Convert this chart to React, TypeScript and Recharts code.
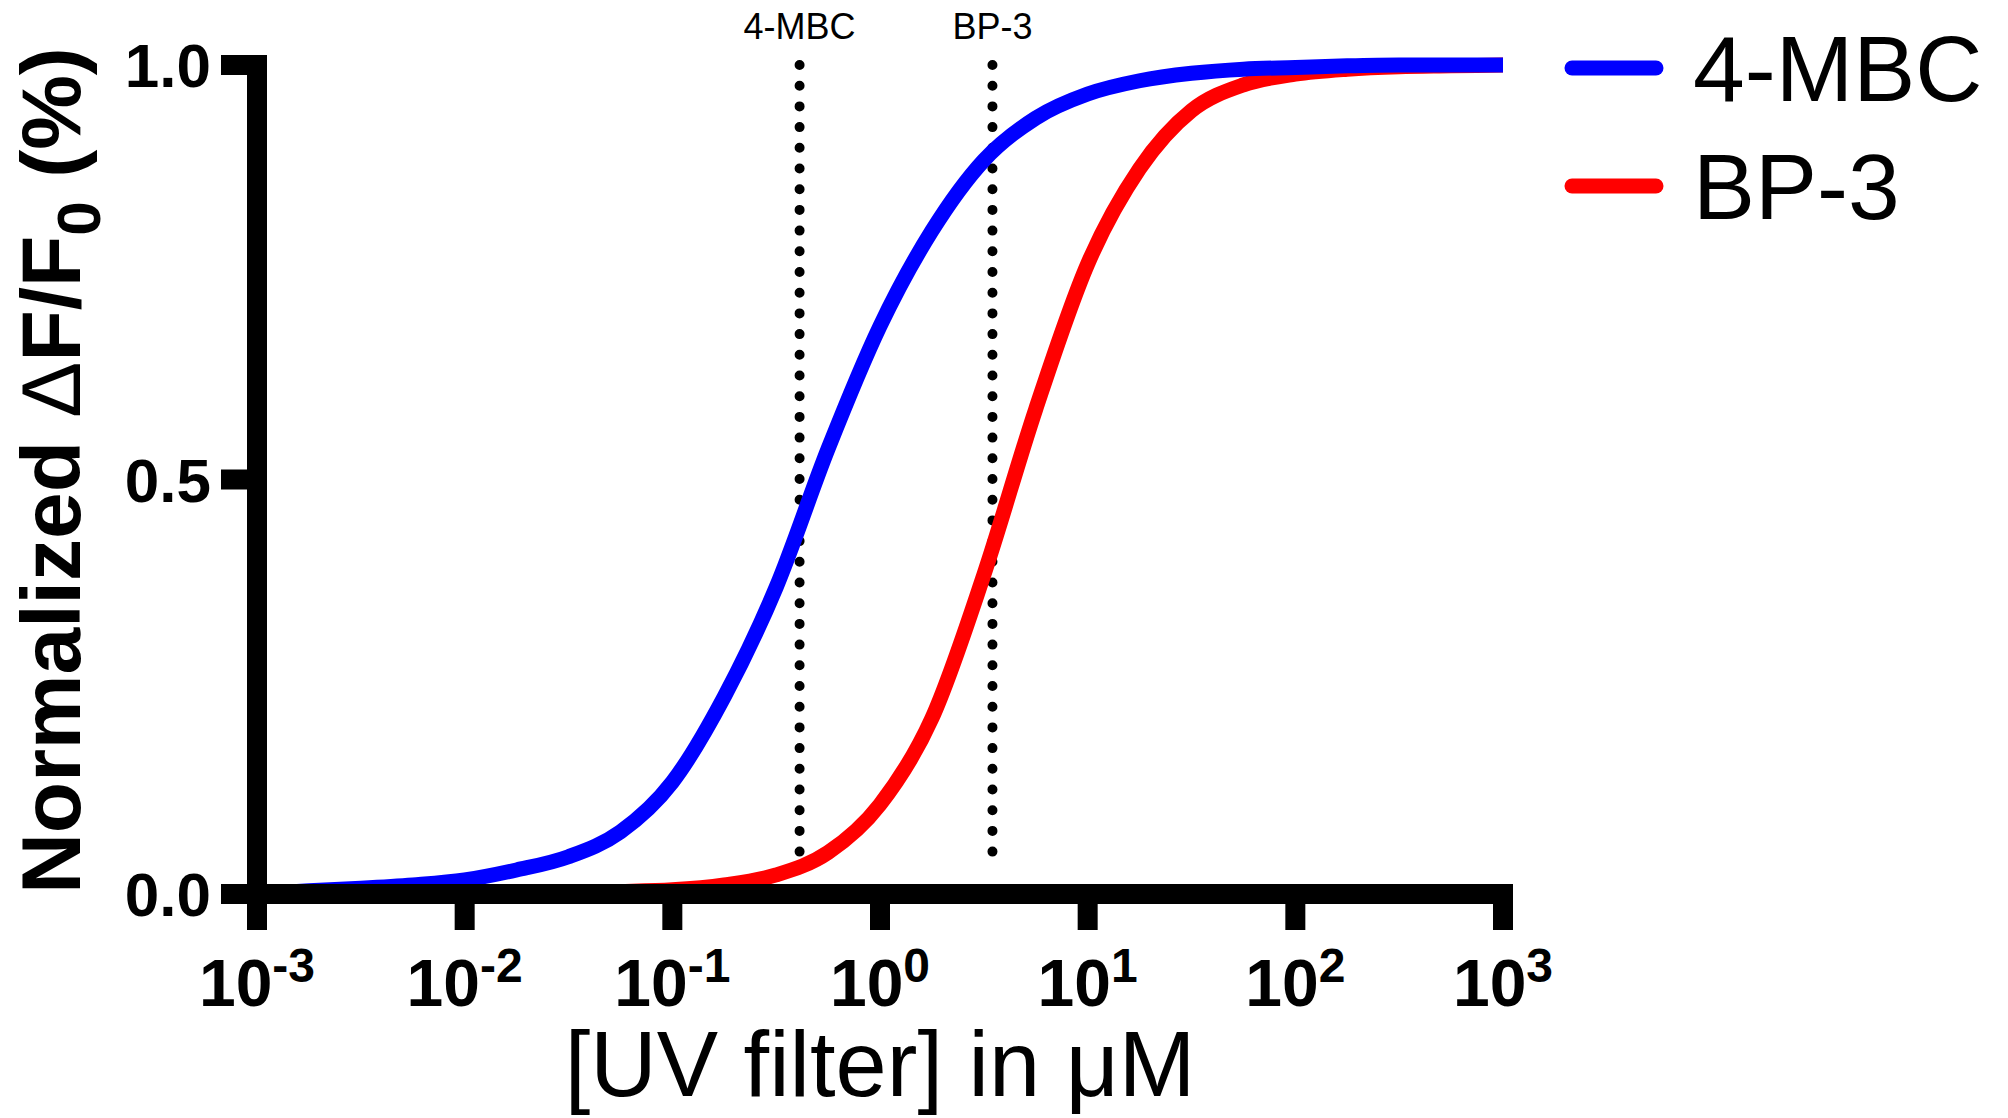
import { LineChart, Line, XAxis, YAxis, Legend, ReferenceLine, Label } from "recharts"

// log10 of the concentration (µM) at which each curve was read
const exponents = [
  -3, -2.75, -2.5, -2.25, -2, -1.75, -1.5, -1.25, -1, -0.75, -0.5, -0.25,
  0, 0.25, 0.5, 0.75, 1, 1.25, 1.5, 1.75, 2, 2.25, 2.5, 2.75, 3
]

// 4-MBC fitted curve
const mbcValues = [
  0.000, 0.004, 0.007, 0.011, 0.017, 0.029, 0.045, 0.075, 0.135, 0.238, 0.370, 0.537,
  0.685, 0.800, 0.885, 0.936, 0.965, 0.981, 0.990, 0.995, 0.997, 0.999, 1.000, 1.000, 1.000
]

// BP-3 fitted curve
const bp3Values = [
  0.000, 0.000, 0.000, 0.000, 0.001, 0.001, 0.002, 0.003, 0.005, 0.011, 0.023, 0.050,
  0.108, 0.212, 0.385, 0.585, 0.760, 0.875, 0.945, 0.976, 0.989, 0.995, 0.998, 0.999, 1.000
]

const xTicks = [0.001, 0.01, 0.1, 1, 10, 100, 1000]
const yTicks = [0, 0.5, 1]

// legend order, top to bottom
const legendOrder = ["4-MBC", "BP-3"]

// EC50 markers (dotted lines)
const markerNames = ["4-MBC", "BP-3"]
const markerConc = [0.41, 3.48]
const markerRange = [0.03, 1]

const data = exponents.map((e, i) => ({
  conc: Math.pow(10, e),
  mbc: mbcValues[i],
  bp3: bp3Values[i]
}))

const FONT = "'Liberation Sans', Arial, Helvetica, sans-serif"

function XTick({ x, y, payload }: any) {
  const exp = Math.round(Math.log10(payload.value))
  return (
    <text x={x} y={y + 74} textAnchor="middle" fontFamily={FONT} fontWeight="bold" fill="#000">
      <tspan fontSize={66}>10</tspan>
      <tspan fontSize={48} dy={-24}>{String(exp)}</tspan>
    </text>
  )
}

function YTitle({ viewBox }: any) {
  const cy = viewBox.y + viewBox.height / 2 - 9
  const bx = 80
  return (
    <text
      x={bx}
      y={cy}
      transform={`rotate(-90 ${bx} ${cy})`}
      textAnchor="middle"
      fontFamily={FONT}
      fontWeight="bold"
      fontSize={84}
      fill="#000"
    >
      <tspan>{"Normalized "}</tspan>
      <tspan fontWeight="normal">{"\u0394"}</tspan>
      <tspan>{"F/F"}</tspan>
      <tspan fontSize={62} dy={20}>0</tspan>
      <tspan dy={-20}>{" (%)"}</tspan>
    </text>
  )
}

function XTitle({ viewBox }: any) {
  return (
    <text
      x={viewBox.x + viewBox.width / 2}
      y={1096}
      textAnchor="middle"
      fontFamily={FONT}
      fontSize={92}
      fill="#000"
    >
      {"[UV filter] in \u03bcM"}
    </text>
  )
}

function LegendBox({ payload }: any) {
  const items = [...(payload ?? [])].sort(
    (a: any, b: any) => legendOrder.indexOf(a.value) - legendOrder.indexOf(b.value)
  )
  return (
    <svg width={440} height={260}>
      {items.map((p: any, i: number) => (
        <g key={p.value}>
          <line
            x1={12}
            x2={96}
            y1={68 + i * 118}
            y2={68 + i * 118}
            stroke={p.color}
            strokeWidth={15}
            strokeLinecap="round"
          />
          <text x={133} y={101 + i * 118} fontFamily={FONT} fontSize={93} fill="#000">
            {p.value}
          </text>
        </g>
      ))}
    </svg>
  )
}

export default function App() {
  return (
    <div style={{ position: "absolute", left: 0, top: 0, width: 2008, height: 1118, background: "#fff" }}>
      <LineChart
        width={2008}
        height={1118}
        data={data}
        margin={{ top: 65, right: 505, left: 0, bottom: 0 }}
      >
        <XAxis
          dataKey="conc"
          type="number"
          scale="log"
          domain={[0.001, 1000]}
          ticks={xTicks}
          allowDataOverflow
          height={224}
          axisLine={{ stroke: "#000", strokeWidth: 20, strokeLinecap: "square" }}
          tickLine={{ stroke: "#000", strokeWidth: 20 }}
          tickSize={36}
          tick={<XTick />}
          interval={0}
        >
          <Label content={<XTitle />} />
        </XAxis>

        <YAxis
          type="number"
          domain={[0, 1]}
          ticks={yTicks}
          width={257}
          axisLine={{ stroke: "#000", strokeWidth: 20, strokeLinecap: "square" }}
          tickLine={{ stroke: "#000", strokeWidth: 20 }}
          tickSize={36}
          tickMargin={10}
          tickFormatter={(v: number) => v.toFixed(1)}
          tick={{ fontSize: 62, fontWeight: "bold", fill: "#000", fontFamily: FONT }}
          interval={0}
        >
          <Label content={<YTitle />} />
        </YAxis>

        {markerNames.map((name, i) => (
          <ReferenceLine
            key={name}
            segment={[
              { x: markerConc[i], y: markerRange[1] },
              { x: markerConc[i], y: markerRange[0] }
            ]}
            stroke="#000"
            strokeWidth={10}
            strokeDasharray="0 20.7"
            strokeLinecap="round"
            label={{ value: name, position: "top", offset: 26, fontSize: 36, fill: "#000", fontFamily: FONT }}
          />
        ))}

        <Legend
          layout="vertical"
          align="center"
          verticalAlign="middle"
          wrapperStyle={{ left: 1560, top: 0, width: 440, height: 260 }}
          content={<LegendBox />}
        />

        <Line
          type="monotone"
          dataKey="bp3"
          name="BP-3"
          stroke="#ff0000"
          strokeWidth={15}
          strokeLinecap="round"
          dot={false}
          activeDot={false}
          isAnimationActive={false}
        />
        <Line
          type="monotone"
          dataKey="mbc"
          name="4-MBC"
          stroke="#0000ff"
          strokeWidth={15}
          strokeLinecap="round"
          dot={false}
          activeDot={false}
          isAnimationActive={false}
        />
      </LineChart>
    </div>
  )
}
